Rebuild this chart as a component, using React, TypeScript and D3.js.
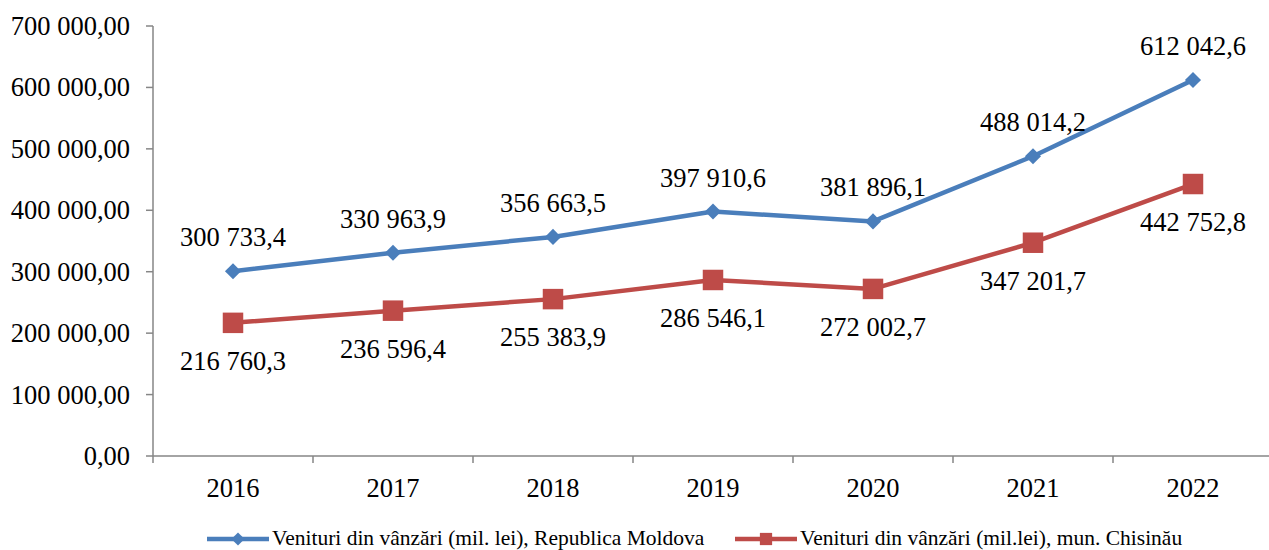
import React, { useEffect, useRef } from 'react';
import * as d3 from 'd3';

const YEARS = ['2016', '2017', '2018', '2019', '2020', '2021', '2022'];
const MOLDOVA = [300733.4, 330963.9, 356663.5, 397910.6, 381896.1, 488014.2, 612042.6];
const CHISINAU = [216760.3, 236596.4, 255383.9, 286546.1, 272002.7, 347201.7, 442752.8];
const Y_TICKS = [0, 100000, 200000, 300000, 400000, 500000, 600000, 700000];
const LEGEND = [
	'Venituri din vânzări (mil. lei), Republica Moldova',
	'Venituri din vânzări (mil.lei), mun. Chisinău'
];

const BLUE = '#4a7ebb';
const RED = '#be4b48';
const FONT = "'Liberation Serif', 'Times New Roman', 'DejaVu Serif', serif";

// 300 733,4 style
function fmt(v: number, digits: number) {
	const parts = v.toFixed(digits).split('.');
	const int = parts[0].replace(/\B(?=(\d{3})+(?!\d))/g, ' ');
	return int + ',' + parts[1];
}

function App() {
	const ref = useRef<SVGSVGElement>(null);

	useEffect(() => {
		const svg = d3.select(ref.current);
		svg.selectAll('*').remove();

		const left = 153, right = 1273, top = 26, bottom = 456;

		const x = d3.scaleBand().domain(YEARS).range([left, right]);
		const y = d3.scaleLinear().domain([0, 700000]).range([bottom, top]);
		const cx = (d: string) => (x(d) as number) + x.bandwidth() / 2;

		// y axis
		const yAxis = svg.append('g');
		yAxis.append('line')
			.attr('x1', left).attr('x2', left)
			.attr('y1', y(700000)).attr('y2', bottom)
			.attr('stroke', '#868686').attr('stroke-width', 1.5);
		Y_TICKS.forEach(t => {
			yAxis.append('line')
				.attr('x1', left - 7).attr('x2', left)
				.attr('y1', y(t)).attr('y2', y(t))
				.attr('stroke', '#868686').attr('stroke-width', 1.5);
			yAxis.append('text')
				.attr('x', left - 23).attr('y', y(t) + 9)
				.attr('text-anchor', 'end')
				.style('font-family', FONT).style('font-size', '26.5px')
				.text(fmt(t, 2));
		});

		// x axis
		const xAxis = svg.append('g');
		xAxis.append('line')
			.attr('x1', left).attr('x2', right)
			.attr('y1', bottom).attr('y2', bottom)
			.attr('stroke', '#868686').attr('stroke-width', 1.5);
		YEARS.forEach(yr => {
			const bx = x(yr) as number;
			xAxis.append('line')
				.attr('x1', bx).attr('x2', bx)
				.attr('y1', bottom).attr('y2', bottom + 7)
				.attr('stroke', '#868686').attr('stroke-width', 1.5);
			xAxis.append('text')
				.attr('x', cx(yr)).attr('y', bottom + 41)
				.attr('text-anchor', 'middle')
				.style('font-family', FONT).style('font-size', '26.5px')
				.text(yr);
		});

		const line = d3.line<number>()
			.x((d, i) => cx(YEARS[i]))
			.y(d => y(d));

		// series
		svg.append('path')
			.attr('d', line(MOLDOVA))
			.attr('fill', 'none').attr('stroke', BLUE).attr('stroke-width', 4.5)
			.attr('stroke-linejoin', 'round');
		svg.append('path')
			.attr('d', line(CHISINAU))
			.attr('fill', 'none').attr('stroke', RED).attr('stroke-width', 4.5)
			.attr('stroke-linejoin', 'round');

		const diamond = d3.symbol().type(d3.symbolDiamond2).size(165);
		const square = d3.symbol().type(d3.symbolSquare).size(420);

		svg.selectAll('.m1').data(MOLDOVA).enter().append('path')
			.attr('d', diamond)
			.attr('transform', (d, i) => 'translate(' + cx(YEARS[i]) + ',' + y(d) + ')')
			.attr('fill', BLUE);
		svg.selectAll('.m2').data(CHISINAU).enter().append('path')
			.attr('d', square)
			.attr('transform', (d, i) => 'translate(' + cx(YEARS[i]) + ',' + y(d) + ')')
			.attr('fill', RED);

		// labels: blue above the point, red below
		svg.selectAll('.l1').data(MOLDOVA).enter().append('text')
			.attr('x', (d, i) => cx(YEARS[i]))
			.attr('y', d => y(d) - 25)
			.attr('text-anchor', 'middle')
			.style('font-family', FONT).style('font-size', '26.5px')
			.text(d => fmt(d, 1));
		svg.selectAll('.l2').data(CHISINAU).enter().append('text')
			.attr('x', (d, i) => cx(YEARS[i]))
			.attr('y', d => y(d) + 47)
			.attr('text-anchor', 'middle')
			.style('font-family', FONT).style('font-size', '26.5px')
			.text(d => fmt(d, 1));

		// legend
		const leg = svg.append('g');
		const items = [
			{ x0: 207, color: BLUE, sym: 'diamond', text: LEGEND[0] },
			{ x0: 735, color: RED, sym: 'square', text: LEGEND[1] }
		];
		items.forEach(it => {
			const ly = 539;
			leg.append('line')
				.attr('x1', it.x0).attr('x2', it.x0 + 62)
				.attr('y1', ly).attr('y2', ly)
				.attr('stroke', it.color).attr('stroke-width', 4.5);
			leg.append('path')
				.attr('d', it.sym === 'diamond'
					? d3.symbol().type(d3.symbolDiamond2).size(110)()
					: d3.symbol().type(d3.symbolSquare).size(150)())
				.attr('transform', 'translate(' + (it.x0 + 31) + ',' + ly + ')')
				.attr('fill', it.color);
			leg.append('text')
				.attr('x', it.x0 + 65).attr('y', ly + 6)
				.style('font-family', FONT).style('font-size', '21.5px')
				.text(it.text);
		});
	}, []);

	return (
		<svg ref={ref} width={1269} height={550}
			style={{ position: 'absolute', left: 0, top: 0, background: '#fff' }} />
	);
}

export default App;
